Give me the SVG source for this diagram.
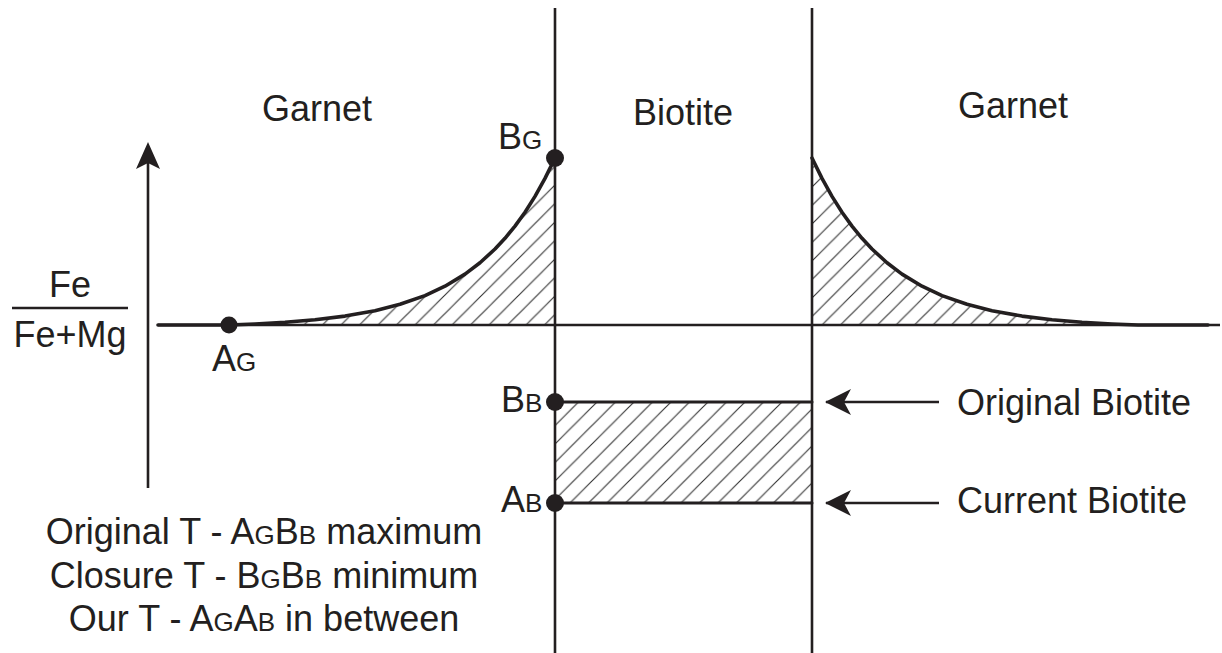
<svg xmlns="http://www.w3.org/2000/svg" width="1222" height="653" viewBox="0 0 1222 653">
<style>
text{font-family:"Liberation Sans",Arial,sans-serif;font-size:36px;fill:#231f20}
.s{font-size:26px}
.ax{stroke:#231f20;stroke-width:2.6;fill:none}
.cv{stroke:#231f20;stroke-width:3.6;fill:none;stroke-linejoin:round;stroke-linecap:round}
.ht{fill:url(#hatch);stroke:none}
.dot{fill:#231f20}
</style>
<defs>
<pattern id="hatch" patternUnits="userSpaceOnUse" width="18.5" height="18.5">
<path d="M-2,20.5 L20.5,-2" stroke="#333" stroke-width="1.1"/>
<path d="M-4,4 L4,-4 M14.5,22.5 L22.5,14.5" stroke="#333" stroke-width="1.1"/>
</pattern>
<marker id="ah" viewBox="0 0 26 26" refX="25" refY="13" markerWidth="26" markerHeight="26" markerUnits="userSpaceOnUse" orient="auto">
<path d="M26,13 L0,0 L7,13 L0,26 Z" fill="#231f20"/>
</marker>
</defs>
<g id="hatching">
<path class="ht" d="M229,325 L255,324 L285,322.3 L315,319.8 L345,316.1 L375,310.7 L400,304.3 L425,295.6 L445,286.2 L465,274.1 L480,262.8 L495,249 L505,238.3 L515,226.1 L525,212.2 L535,196.4 L545,178.4 L555,158 L555,325 Z"/>
<path class="ht" d="M812,158 L822,178.4 L832,196.4 L842,212.2 L852,226.1 L862,238.3 L872,249 L887,262.8 L902,274.1 L922,286.2 L942,295.6 L967,304.3 L992,310.7 L1022,316.1 L1052,319.8 L1082,322.3 L1112,324 L1138,325 L812,325 Z"/>
<rect class="ht" x="555" y="402" width="257" height="101"/>
</g>
<g id="axes">
<line class="ax" x1="555" y1="8" x2="555" y2="653"/>
<line class="ax" x1="812" y1="8" x2="812" y2="653"/>
<line class="ax" x1="158" y1="325" x2="1220" y2="325"/>
<line class="ax" x1="148" y1="488" x2="148" y2="150"/>
<path d="M148,142 L160,169 L148,163 L136,169 Z" fill="#231f20"/>
<line class="ax" x1="12" y1="308" x2="128" y2="308"/>
</g>
<g id="curves">
<path class="cv" d="M158,325 L229,325 L255,324 L285,322.3 L315,319.8 L345,316.1 L375,310.7 L400,304.3 L425,295.6 L445,286.2 L465,274.1 L480,262.8 L495,249 L505,238.3 L515,226.1 L525,212.2 L535,196.4 L545,178.4 L555,158"/>
<path class="cv" d="M812,158 L822,178.4 L832,196.4 L842,212.2 L852,226.1 L862,238.3 L872,249 L887,262.8 L902,274.1 L922,286.2 L942,295.6 L967,304.3 L992,310.7 L1022,316.1 L1052,319.8 L1082,322.3 L1112,324 L1138,325 L1208,325"/>
<line class="cv" x1="555" y1="402" x2="812" y2="402" style="stroke-width:3"/>
<line class="cv" x1="555" y1="503" x2="812" y2="503" style="stroke-width:3"/>
</g>
<g id="connectors">
<line class="ax" x1="939" y1="402" x2="826" y2="402" marker-end="url(#ah)"/>
<line class="ax" x1="939" y1="503" x2="826" y2="503" marker-end="url(#ah)"/>
</g>
<g id="point-AG"><circle class="dot" cx="229" cy="325" r="8.5"/><text x="212" y="371">A<tspan class="s">G</tspan></text></g>
<g id="point-BG"><circle class="dot" cx="555" cy="158" r="9"/><text x="498" y="149">B<tspan class="s">G</tspan></text></g>
<g id="point-BB"><circle class="dot" cx="555" cy="402" r="9"/><text x="501" y="412">B<tspan class="s">B</tspan></text></g>
<g id="point-AB"><circle class="dot" cx="555" cy="503" r="9"/><text x="501" y="512">A<tspan class="s">B</tspan></text></g>
<g id="labels">
<text x="317" y="121" text-anchor="middle">Garnet</text>
<text x="683" y="125" text-anchor="middle">Biotite</text>
<text x="1013" y="118" text-anchor="middle">Garnet</text>
<text x="70" y="297" text-anchor="middle">Fe</text>
<text x="70" y="347" text-anchor="middle">Fe+Mg</text>
<text x="957" y="415">Original Biotite</text>
<text x="957" y="513">Current Biotite</text>
</g>
<g id="legend">
<text x="264" y="544" text-anchor="middle">Original T - A<tspan class="s">G</tspan>B<tspan class="s">B</tspan> maximum</text>
<text x="264" y="588" text-anchor="middle">Closure T - B<tspan class="s">G</tspan>B<tspan class="s">B</tspan> minimum</text>
<text x="264" y="631" text-anchor="middle">Our T - A<tspan class="s">G</tspan>A<tspan class="s">B</tspan> in between</text>
</g>
</svg>
